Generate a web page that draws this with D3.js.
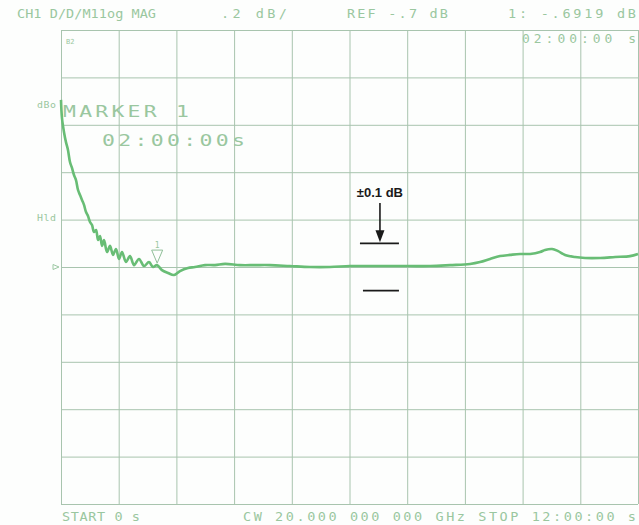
<!DOCTYPE html>
<html>
<head>
<meta charset="utf-8">
<script src="https://cdn.jsdelivr.net/npm/d3@7"></script>
<style>
  html, body { margin: 0; padding: 0; background: #fdfefd; }
  svg { display: block; }
  .lab { font-family: "DejaVu Sans Mono", "Liberation Mono", monospace; fill: #9ac79f; }
</style>
</head>
<body>
<svg id="chart" width="639" height="525"></svg>
<script>
// ---- data (time in minutes, magnitude in dB) ----
const times = [0, 1.2, 3.7, 6.2, 8.7, 11.2, 13.7, 16.2, 18.7, 21.2, 23.7, 26.2, 28.7, 31.2, 33.7, 36.2, 38.7, 41.2, 43.7, 46.2,
  48.7, 51.2, 53.7, 57.4, 61.2, 64.9, 68.6, 72.4, 76.1, 81.1, 86.1, 91.1, 97.3, 103.6, 109.8, 114.8, 119.8, 126.0, 133.5, 141.0,
  148.5, 158.5, 167.2, 179.7, 192.2, 204.7, 223.4, 242.1, 260.8, 285.8, 310.7, 335.7, 360.7, 385.6, 410.6, 435.6, 460.5, 485.5,
  510.4, 522.9, 535.4, 547.9, 560.4, 572.8, 585.3, 597.8, 604.0, 612.8, 620.3, 629.0, 641.5, 654.0, 672.7, 691.4, 710.1, 720];
const values = [0.005, -0.071, -0.130, -0.173, -0.206, -0.257, -0.282, -0.312, -0.333, -0.375, -0.396, -0.417, -0.438, -0.468, -0.485, -0.510, -0.523, -0.552, -0.544, -0.586,
  -0.569, -0.611, -0.586, -0.637, -0.611, -0.649, -0.624, -0.666, -0.637, -0.679, -0.654, -0.692, -0.666, -0.696, -0.679, -0.700, -0.692, -0.713, -0.725, -0.734,
  -0.717, -0.704, -0.700, -0.692, -0.692, -0.687, -0.692, -0.692, -0.692, -0.696, -0.700, -0.700, -0.696, -0.696, -0.696, -0.696, -0.696, -0.692,
  -0.687, -0.679, -0.666, -0.654, -0.649, -0.645, -0.645, -0.637, -0.628, -0.624, -0.633, -0.649, -0.658, -0.662, -0.662, -0.658, -0.654, -0.645];

const xTicks = [0, 72, 144, 216, 288, 360, 432, 504, 576, 648, 720];
const yTicks = [0.3, 0.1, -0.1, -0.3, -0.5, -0.7, -0.9, -1.1, -1.3, -1.5, -1.7];
const refLevel = -0.7;
const markerTime = 120;
const markerValue = -0.6919;
const tolerance = 0.1;
const tolTime = 398;

const headerLabels = [
  {text: "CH1 D/D/M11og MAG", x: 17, w: 139},
  {text: ".2 dB/", x: 221, w: 66},
  {text: "REF -.7 dB", x: 347, w: 101},
  {text: "1: -.6919 dB", x: 508, w: 128}
];
const footerLabels = [
  {text: "START 0 s", x: 62, w: 78},
  {text: "CW 20.000 000 000 GHz STOP 12:00:00 s", x: 243, w: 393}
];

// ---- scales ----
const svg = d3.select("#chart");
const x = d3.scaleLinear().domain([0, 720]).range([61, 638]);
const y = d3.scaleLinear().domain([-1.7, 0.3]).range([504, 30]);

const gridColor = "#a8c4ae";

// grid via axes
const gx = svg.append("g").attr("transform", `translate(0,${y(-1.7)})`)
  .call(d3.axisBottom(x).tickValues(xTicks).tickSize(-(y(-1.7) - y(0.3))).tickFormat(""));
const gy = svg.append("g").attr("transform", `translate(${x(0)},0)`)
  .call(d3.axisLeft(y).tickValues(yTicks).tickSize(-(x(720) - x(0))).tickFormat(""));
[gx, gy].forEach(g => {
  g.select(".domain").remove();
  g.selectAll("line").attr("stroke", gridColor).attr("stroke-width", 1);
});

// reference marker on left
const ry = y(refLevel);
svg.append("path")
  .attr("d", `M${x(0) - 8},${ry - 2.5} L${x(0) - 2},${ry} L${x(0) - 8},${ry + 2.5}Z`)
  .attr("fill", "none").attr("stroke", "#9cc8a3").attr("stroke-width", 1);

// wide instrument-style text helper
function wideText(str, tx, ty, size, w, sx, fill) {
  const t = svg.append("text").attr("class", "lab")
    .attr("transform", `translate(${tx},${ty}) scale(${sx},1)`)
    .attr("font-size", size).attr("textLength", w / sx).attr("lengthAdjust", "spacing")
    .text(str);
  if (fill) t.attr("fill", fill);
  return t;
}

headerLabels.forEach(d => wideText(d.text, d.x, 18, 12.5, d.w, 1.08));
footerLabels.forEach(d => wideText(d.text, d.x, 521, 12.5, d.w, 1.08));
wideText("02:00:00 s", 522, 43, 12, 114, 1.08);
svg.append("text").attr("class", "lab").attr("x", 66).attr("y", 44)
  .attr("font-size", 7).text("B2");
wideText("dBo", 37, 108, 9, 19, 1.1);
wideText("Hld", 37, 221, 9, 19, 1.1);
wideText("MARKER 1", 63, 117, 16.5, 126, 1.3, "#a3c8a9");
wideText("02:00:00s", 102, 146, 16.5, 143, 1.3, "#a3c8a9");

// trace
const line = d3.line().x((d, i) => x(times[i])).y(d => y(d)).curve(d3.curveCatmullRom);
svg.append("path").datum(values)
  .attr("d", line)
  .attr("fill", "none").attr("stroke", "#68bd75").attr("stroke-width", 2.6)
  .attr("stroke-linejoin", "round");

// marker triangle
const mx = x(markerTime), my = y(markerValue) - 2;
svg.append("path")
  .attr("d", `M${mx - 5.5},${my - 13} L${mx + 5.5},${my - 13} L${mx},${my}Z`)
  .attr("fill", "none").attr("stroke", "#8fbf98").attr("stroke-width", 1);
svg.append("text").attr("class", "lab").attr("x", mx).attr("y", my - 15)
  .attr("font-size", 8).attr("text-anchor", "middle").text("1");

// tolerance annotation
const tx = x(tolTime);
const yUp = y(refLevel + tolerance), yDn = y(refLevel - tolerance);
svg.append("text").attr("x", tx).attr("y", 197)
  .attr("text-anchor", "middle").attr("font-family", "Liberation Sans, Arial, sans-serif")
  .attr("font-weight", "bold").attr("font-size", 13).attr("fill", "#1a1a1a").text("±0.1 dB");
svg.append("line").attr("x1", tx).attr("x2", tx).attr("y1", 203).attr("y2", yUp - 10)
  .attr("stroke", "#1a1a1a").attr("stroke-width", 1.6);
svg.append("path").attr("d", `M${tx - 4.5},${yUp - 13} L${tx + 4.5},${yUp - 13} L${tx},${yUp - 1}Z`)
  .attr("fill", "#1a1a1a");
svg.append("line").attr("x1", tx - 20).attr("x2", tx + 19).attr("y1", yUp).attr("y2", yUp)
  .attr("stroke", "#1a1a1a").attr("stroke-width", 1.8);
svg.append("line").attr("x1", tx - 17).attr("x2", tx + 19).attr("y1", yDn).attr("y2", yDn)
  .attr("stroke", "#1a1a1a").attr("stroke-width", 1.8);
</script>
</body>
</html>
